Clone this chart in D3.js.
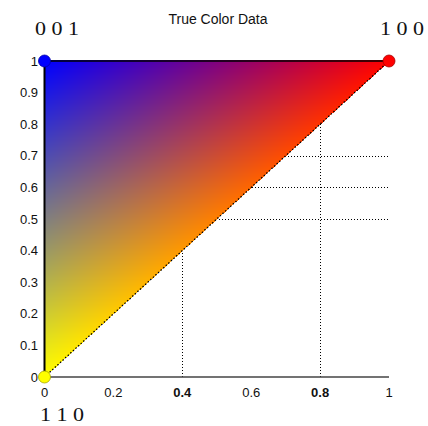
<!DOCTYPE html>
<html>
<head>
<meta charset="utf-8">
<script src="https://cdn.jsdelivr.net/npm/d3@7"></script>
<style>
html,body{margin:0;padding:0;background:#fff;}
svg{display:block;}
</style>
</head>
<body>
<svg id="chart" width="428" height="426"></svg>
<script>
// ---- data ----
const vertexX = [0, 0, 1];
const vertexY = [0, 1, 1];
const vertexColors = [[1, 1, 0], [0, 0, 1], [1, 0, 0]];
const vertexLabels = ["1 1 0", "0 0 1", "1 0 0"];
const xTicks = [0, 0.2, 0.4, 0.6, 0.8, 1];
const xTickLabels = ["0", "0.2", "0.4", "0.6", "0.8", "1"];
const yTicks = [0, 0.1, 0.2, 0.3, 0.4, 0.5, 0.6, 0.7, 0.8, 0.9, 1];
const yTickLabels = ["0", "0.1", "0.2", "0.3", "0.4", "0.5", "0.6", "0.7", "0.8", "0.9", "1"];
const boldXTicks = [0.4, 0.8];
const gridX = [0.4, 0.8];
const gridY = [0.5, 0.6, 0.7];
const title = "True Color Data";

// ---- layout ----
const W = 428, H = 426;
const x = d3.scaleLinear().domain([0, 1]).range([44.5, 389]);
const y = d3.scaleLinear().domain([0, 1]).range([377, 61]);
const svg = d3.select("#chart");
const px = v => Math.round(v) + 0.5;

// grid (dotted)
svg.append("g").selectAll("line").data(gridX).join("line")
  .attr("x1", d => px(x(d))).attr("x2", d => px(x(d)))
  .attr("y1", y(0)).attr("y2", y(1))
  .attr("stroke", "#000").attr("stroke-width", 1).attr("stroke-dasharray", "1,2")
  .attr("shape-rendering", "crispEdges");
svg.append("g").selectAll("line").data(gridY).join("line")
  .attr("x1", x(0)).attr("x2", x(1))
  .attr("y1", d => px(y(d))).attr("y2", d => px(y(d)))
  .attr("stroke", "#000").attr("stroke-width", 1).attr("stroke-dasharray", "1,2")
  .attr("shape-rendering", "crispEdges");

// interpolated patch rendered on canvas through scales
const canvas = document.createElement("canvas");
canvas.width = W; canvas.height = H;
const ctx = canvas.getContext("2d");
const img = ctx.createImageData(W, H);
const P = vertexX.map((vx, i) => [vx, vertexY[i]]);
const det = (P[1][1] - P[2][1]) * (P[0][0] - P[2][0]) + (P[2][0] - P[1][0]) * (P[0][1] - P[2][1]);
for (let py = 0; py < H; py++) {
  for (let pxl = 0; pxl < W; pxl++) {
    const u = x.invert(pxl + 0.5), v = y.invert(py + 0.5);
    const l0 = ((P[1][1] - P[2][1]) * (u - P[2][0]) + (P[2][0] - P[1][0]) * (v - P[2][1])) / det;
    const l1 = ((P[2][1] - P[0][1]) * (u - P[2][0]) + (P[0][0] - P[2][0]) * (v - P[2][1])) / det;
    const l2 = 1 - l0 - l1;
    if (l0 < -0.002 || l1 < -0.002 || l2 < -0.002) continue;
    const w = [l0, l1, l2].map(t => Math.max(0, t));
    const k = (py * W + pxl) * 4;
    for (let c = 0; c < 3; c++) {
      const val = w[0] * vertexColors[0][c] + w[1] * vertexColors[1][c] + w[2] * vertexColors[2][c];
      img.data[k + c] = Math.round(Math.min(1, val) * 255);
    }
    img.data[k + 3] = 255;
  }
}
ctx.putImageData(img, 0, 0);
svg.append("image").attr("x", 0).attr("y", 0).attr("width", W).attr("height", H)
  .attr("href", canvas.toDataURL());

// patch edges
const line = d3.line().x(d => x(d[0])).y(d => y(d[1]));
svg.append("path").attr("d", line([P[0], P[2]]))
  .attr("fill", "none").attr("stroke", "#000").attr("stroke-width", 1.3).attr("stroke-dasharray", "1.5,2");
svg.append("path").attr("d", line([P[1], P[2]]))
  .attr("fill", "none").attr("stroke", "#000").attr("stroke-width", 1.5);

// axes lines
svg.append("line").attr("x1", x(0)).attr("x2", x(0)).attr("y1", y(0)).attr("y2", y(1))
  .attr("stroke", "#000").attr("stroke-width", 2);
svg.append("line").attr("x1", x(0)).attr("x2", x(1)).attr("y1", y(0)).attr("y2", y(0))
  .attr("stroke", "#444").attr("stroke-width", 1.5);

// tick labels
svg.append("g").selectAll("text").data(yTicks).join("text")
  .attr("x", 38).attr("y", d => y(d)).attr("dy", "0.36em")
  .attr("text-anchor", "end")
  .attr("font-family", "'Liberation Sans', Arial, sans-serif").attr("font-size", 13)
  .attr("fill", "#111")
  .text((d, i) => yTickLabels[i]);
svg.append("g").selectAll("text").data(xTicks).join("text")
  .attr("x", d => x(d)).attr("y", 397)
  .attr("text-anchor", "middle")
  .attr("font-family", "'Liberation Sans', Arial, sans-serif").attr("font-size", 13)
  .attr("font-weight", d => boldXTicks.includes(d) ? "bold" : "normal")
  .attr("fill", "#111")
  .text((d, i) => xTickLabels[i]);

// vertex markers
svg.append("g").selectAll("circle").data(P).join("circle")
  .attr("cx", d => x(d[0])).attr("cy", d => y(d[1])).attr("r", 6)
  .attr("fill", (d, i) => d3.rgb(vertexColors[i][0] * 255, vertexColors[i][1] * 255, vertexColors[i][2] * 255))
  .attr("stroke", (d, i) => d3.rgb(vertexColors[i][0] * 255, vertexColors[i][1] * 255, vertexColors[i][2] * 255).darker(1.2))
  .attr("stroke-width", 0.8);

// vertex labels
const labelPos = [[40, 421], [35, 35], [380, 35]];
svg.append("g").selectAll("text").data(vertexLabels).join("text")
  .attr("x", (d, i) => labelPos[i][0]).attr("y", (d, i) => labelPos[i][1])
  .attr("font-family", "'Liberation Serif', 'Times New Roman', serif").attr("font-size", 19)
  .attr("textLength", 44).attr("lengthAdjust", "spacingAndGlyphs")
  .attr("fill", "#111")
  .text(d => d);

// title
svg.append("text").attr("x", 218).attr("y", 24).attr("text-anchor", "middle")
  .attr("font-family", "'Liberation Sans', Arial, sans-serif").attr("font-size", 14)
  .attr("fill", "#111").text(title);
</script>
</body>
</html>
